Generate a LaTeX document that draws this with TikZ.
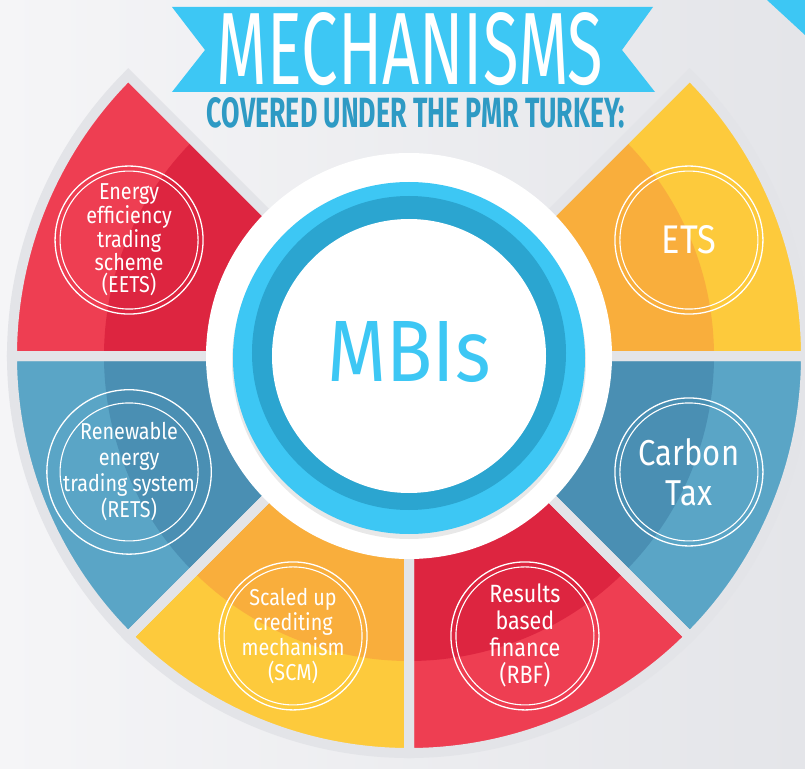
\documentclass[tikz,border=0pt]{standalone}
\usepackage{fontspec}
\setmainfont{Fira Sans}[FakeStretch=0.86]
\newfontfamily\headfont{Fira Sans}
\usepackage{tikz}
\usetikzlibrary{positioning}

\definecolor{bannerblue}{HTML}{3DC7F4}
\definecolor{subblue}{HTML}{2E9AC4}
\definecolor{ringdark}{HTML}{2BA5D0}
\definecolor{redL}{HTML}{EE3E52}
\definecolor{redD}{HTML}{DD2540}
\definecolor{yelL}{HTML}{FDCA3C}
\definecolor{yelD}{HTML}{F9AE3C}
\definecolor{bluL}{HTML}{5AA5C6}
\definecolor{bluD}{HTML}{4A8FB3}
\definecolor{gapgray}{HTML}{E3E4E8}
\definecolor{bgL}{HTML}{F5F5F7}
\definecolor{bgR}{HTML}{E4E5E9}

\tikzset{
  badge/.style={circle, draw=white, line width=1.3pt, minimum size=148pt,
    inner sep=0pt, text=white, align=center},
  badgering/.style={draw=white, line width=1.1pt}
}

\begin{document}
\begin{tikzpicture}[x=1pt, y=1pt]
    \useasboundingbox (-409,-412) rectangle (396,356);
    \shade[left color=bgL, right color=bgR] (-409,-412) rectangle (396,356);
    \fill[bannerblue] (358,356) -- (396,356) -- (396,321) -- cycle;
    % six sectors, two tones each
    \foreach \a/\lc/\dc in {135/redL/redD, 0/yelL/yelD, 180/bluL/bluD,
                            225/yelL/yelD, 270/redL/redD, 315/bluL/bluD}{
      \fill[\lc] (0,0) -- (\a:397) arc[start angle=\a, delta angle=45, radius=397] -- cycle;
      \fill[\dc] (0,0) -- (\a:305) arc[start angle=\a, delta angle=45, radius=305] -- cycle;
    }
    \foreach \a in {135,0,180,225,270,315}{
      \draw[gapgray, line width=10pt]
        (0,0) -- (\a:397) arc[start angle=\a, delta angle=45, radius=397] -- cycle;
    }
    % centre disc
    \fill[white]      (0,0)  circle[radius=203];
    \fill[gray!18]    (0,-6) circle[radius=177];
    \fill[bannerblue] (0,-2) circle[radius=176];
    \fill[ringdark]   (0,3)  circle[radius=157];
    \fill[white]      (0,0)  circle[radius=137];
    \node[text=bannerblue, inner sep=0pt] (mbi) at (0,4)
      {\resizebox{163pt}{60pt}{\headfont MBIs}};
    % badges
    \node[badge, font=\fontsize{23}{22}\selectfont] (eets) at (157.5:303)
      {Energy\\efficiency\\trading\\scheme\\(EETS)};
    \node[badge, font=\fontsize{40}{40}\selectfont] (ets) at (22.5:303) {ETS};
    \node[badge, font=\fontsize{23}{26}\selectfont] (rets) at (202.5:303)
      {Renewable\\energy\\trading system\\(RETS)};
    \node[badge, font=\fontsize{36}{40}\selectfont] (ctax) at (337.5:303)
      {Carbon\\Tax};
    \node[badge, font=\fontsize{23}{25}\selectfont] (scm) at (247.5:303)
      {Scaled up\\crediting\\mechanism\\(SCM)};
    \node[badge, font=\fontsize{25}{27}\selectfont] (rbf) at (292.5:303)
      {Results\\based\\finance\\(RBF)};
    \foreach \n in {eets,ets,rets,ctax,scm,rbf}{
      \draw[badgering] (\n.center) circle[radius=69];
    }
    % title banner
    \fill[bannerblue] (-237,349) -- (244,349) -- (213,306) -- (246,264)
      -- (-237,264) -- (-204,306) -- cycle;
    \node[text=white, inner sep=0pt] (title) at (1,307)
      {\resizebox{386pt}{72pt}{\headfont MECHANISMS}};
    \node[text=subblue, inner sep=0pt] (subtitle) at (7,243)
      {\resizebox{418pt}{30pt}{\headfont\bfseries COVERED UNDER THE PMR TURKEY:}};
\end{tikzpicture}
\end{document}
